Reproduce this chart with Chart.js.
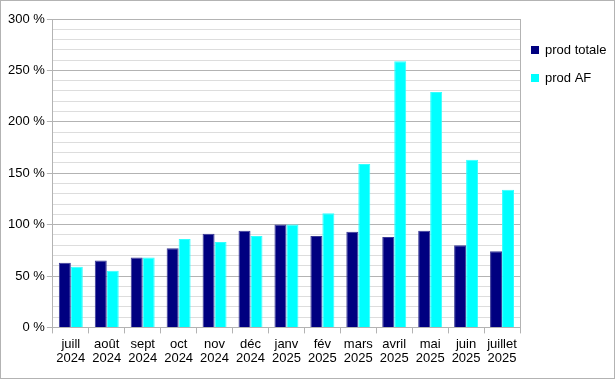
<!DOCTYPE html>
<html>
<head>
<meta charset="utf-8">
<script src="https://cdn.jsdelivr.net/npm/chart.js@4.4.1/dist/chart.umd.min.js"></script>
<style>
html,body{margin:0;padding:0;background:#fff;}
#wrap{position:relative;width:615px;height:379px;box-sizing:border-box;border:1px solid #b3b3b3;}
canvas{display:block;}
</style>
</head>
<body>
<div id="wrap"><canvas id="c" width="613" height="377"></canvas></div>
<script>
const categories = [["juill","2024"],["août","2024"],["sept","2024"],["oct","2024"],["nov","2024"],["déc","2024"],["janv","2025"],["fév","2025"],["mars","2025"],["avril","2025"],["mai","2025"],["juin","2025"],["juillet","2025"]];
const prodTotale = [63, 65, 68, 77, 91, 94, 100, 89, 93, 88, 94, 80, 74];
const prodAF = [59, 55, 68, 86, 83, 89, 100, 111, 159, 259, 229, 163, 134];
const seriesNames = ["prod totale", "prod AF"];
const yMax = 300;

const frame = {
  id: 'frame',
  afterDraw(chart) {
    const a = chart.chartArea, ctx = chart.ctx;
    ctx.save();
    ctx.strokeStyle = '#b3b3b3';
    ctx.lineWidth = 1;
    ctx.beginPath();
    ctx.moveTo(Math.round(a.right) + 0.5, Math.round(a.top));
    ctx.lineTo(Math.round(a.right) + 0.5, Math.round(a.bottom));
    ctx.stroke();
    ctx.restore();
  }
};

// legend drawn beside the plot, from the datasets' own labels and colours
const sideLegend = {
  id: 'sideLegend',
  afterDraw(chart) {
    const ctx = chart.ctx, a = chart.chartArea;
    const x0 = Math.round(a.right) + 11;
    const yStart = Math.round(a.top) + 31;
    const step = 27.5;
    ctx.save();
    ctx.font = '13px "Liberation Sans"';
    ctx.textBaseline = 'middle';
    ctx.textAlign = 'left';
    chart.data.datasets.forEach((ds, i) => {
      const cy = yStart + i * step;
      ctx.fillStyle = ds.backgroundColor;
      ctx.fillRect(x0, Math.round(cy - 4), 8, 8);
      ctx.fillStyle = '#000';
      ctx.fillText(ds.label, x0 + 14, cy + 0.5);
    });
    ctx.restore();
  }
};

new Chart(document.getElementById('c'), {
  type: 'bar',
  data: {
    labels: categories,
    datasets: [
      { label: seriesNames[0], data: prodTotale, backgroundColor: '#000080', borderColor: '#3a3a96', borderWidth: 1 },
      { label: seriesNames[1], data: prodAF, backgroundColor: '#00ffff', borderColor: '#33ffff', borderWidth: 1 }
    ]
  },
  options: {
    responsive: false,
    animation: false,
    devicePixelRatio: 1,
    layout: { padding: { left: 5, top: 18, right: 94, bottom: 8 } },
    datasets: { bar: { categoryPercentage: 0.667, barPercentage: 1 } },
    plugins: {
      legend: { display: false },
      tooltip: { enabled: false }
    },
    scales: {
      x: {
        grid: { offset: true, drawOnChartArea: false, color: '#b3b3b3', tickLength: 6 },
        border: { color: '#b3b3b3' },
        ticks: { color: '#000', font: { family: 'Liberation Sans', size: 13, lineHeight: 1.1 }, maxRotation: 0, autoSkip: false, padding: 4 }
      },
      y: {
        min: 0, max: yMax,
        grid: {
          color: c => (c.tick && c.tick.value % 50 === 0) ? '#b3b3b3' : '#dddddd',
          tickColor: c => (c.tick && c.tick.value % 50 === 0) ? '#b3b3b3' : 'rgba(0,0,0,0)',
          tickLength: 6
        },
        border: { color: '#b3b3b3' },
        ticks: {
          stepSize: 10,
          autoSkip: false,
          padding: 2,
          color: '#000',
          font: { family: 'Liberation Sans', size: 13 },
          callback: v => (v % 50 === 0) ? v + ' %' : ''
        }
      }
    }
  },
  plugins: [frame, sideLegend]
});
</script>
</body>
</html>
